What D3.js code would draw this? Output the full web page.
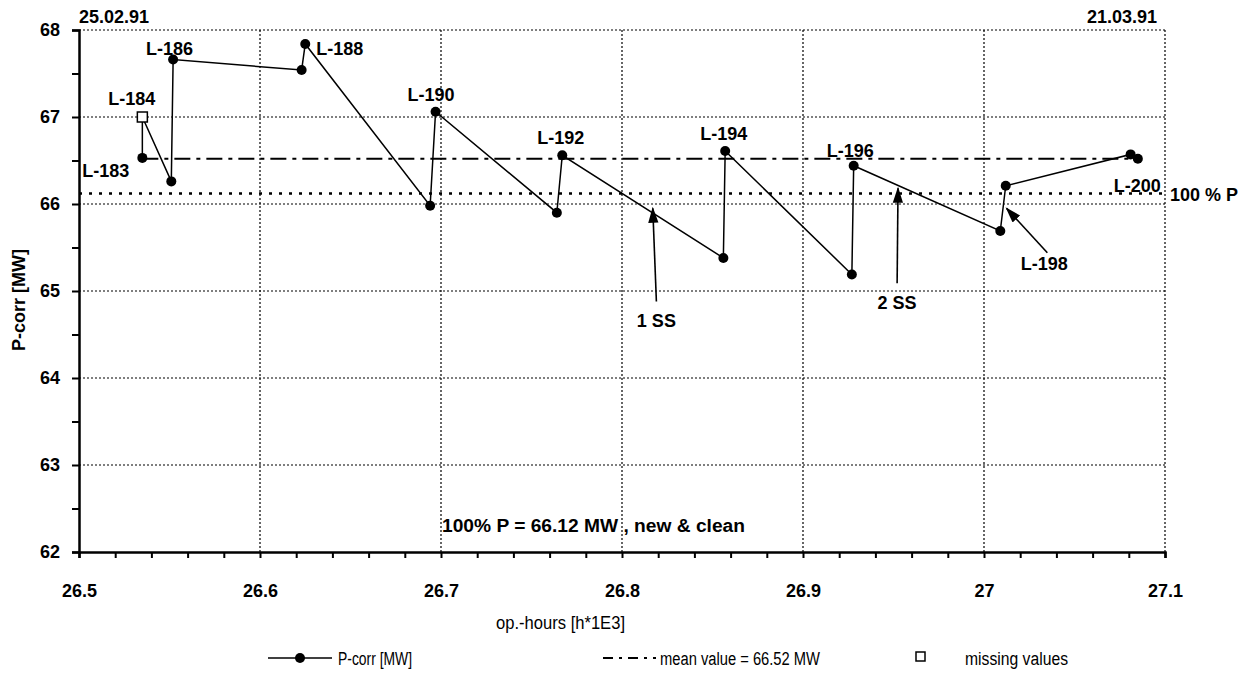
<!DOCTYPE html>
<html>
<head>
<meta charset="utf-8">
<script src="https://cdn.jsdelivr.net/npm/d3@7"></script>
<style>
  body { margin: 0; background: #fff; }
  text { font-family: "Liberation Sans", Arial, sans-serif; fill: #000; }
  .bold { font-weight: bold; }
  .narrow { font-family: "Liberation Sans Narrow", "Liberation Sans", Arial, sans-serif; }
</style>
</head>
<body>
<div id="canvas"></div>
<script>
// data

const hours = [26.535, 26.535, 26.551, 26.552, 26.623, 26.625, 26.694, 26.697, 26.764, 26.767,
  26.856, 26.857, 26.927, 26.928, 27.009, 27.012, 27.081, 27.085];
const pcorr = [66.53, 67.0, 66.26, 67.66, 67.54, 67.84, 65.98, 67.06, 65.90, 66.56,
  65.38, 66.61, 65.19, 66.44, 65.69, 66.21, 66.57, 66.52];
const missing = [false, true, false, false, false, false, false, false, false, false,
  false, false, false, false, false, false, false, false];

const meanValue = 66.52;
const fullPower = 66.12;

const pointLabels = ["L-183", "L-184", "L-186", "L-188", "L-190", "L-192", "L-194", "L-196", "L-198", "L-200"];
// arrows: tip (x, y) and tail (x, y) in data units
const arrowNames = ["1 SS", "2 SS", "L-198"];
const arrowTipX = [26.817, 26.9525, 27.0125];
const arrowTipY = [65.95, 66.18, 65.95];
const arrowTailX = [26.819, 26.952, 27.035];
const arrowTailY = [64.88, 65.09, 65.44];

const xTicks = [26.5, 26.6, 26.7, 26.8, 26.9, 27, 27.1];
const yTicks = [62, 63, 64, 65, 66, 67, 68];

// constants
const width = 1247;
const height = 675;
const plotLeft = 79, plotRight = 1165, plotTop = 30, plotBottom = 552;
const fs = '18px';

const x = d3.scaleLinear().domain([26.5, 27.1]).range([plotLeft, plotRight]);
const y = d3.scaleLinear().domain([62, 68]).range([plotBottom, plotTop]);

const svg = d3.select('#canvas')
  .append('svg').attr('width', width).attr('height', height);

// grid
svg.append('g').selectAll('line').data(yTicks.slice(1)).join('line')
  .attr('x1', plotLeft).attr('x2', plotRight)
  .attr('y1', d => y(d)).attr('y2', d => y(d))
  .attr('stroke', '#000').attr('stroke-width', 1.2).attr('stroke-dasharray', '2,2');
svg.append('g').selectAll('line').data(xTicks.slice(1)).join('line')
  .attr('x1', d => x(d)).attr('x2', d => x(d))
  .attr('y1', plotTop).attr('y2', plotBottom)
  .attr('stroke', '#000').attr('stroke-width', 1.2).attr('stroke-dasharray', '2,2');

// axes
const yAxis = d3.axisLeft(y)
  .tickValues(d3.range(62, 68.01, 0.5))
  .tickFormat(d => Number.isInteger(d) ? d : '')
  .tickSize(7).tickPadding(12);
const xAxis = d3.axisBottom(x)
  .tickValues(d3.range(0, 31).map(i => 26.5 + i * 0.02))
  .tickFormat((d, i) => i % 5 === 0 ? String(+d.toFixed(1)) : '')
  .tickSize(6).tickPadding(26);

const gy = svg.append('g').attr('transform', `translate(${plotLeft},0)`).call(yAxis);
const gx = svg.append('g').attr('transform', `translate(0,${plotBottom})`).call(xAxis);
[gx, gy].forEach(g => {
  g.select('.domain').attr('stroke', '#000').attr('stroke-width', 2.5);
  g.selectAll('.tick line').attr('stroke', '#000').attr('stroke-width', 2);
  g.selectAll('.tick text').attr('class', 'bold').style('font-size', fs)
    .style('font-family', '"Liberation Sans", Arial, sans-serif').attr('fill', '#000');
});

// 100 % P line
svg.append('line')
  .attr('x1', plotLeft).attr('x2', plotRight)
  .attr('y1', y(fullPower)).attr('y2', y(fullPower))
  .attr('stroke', '#000').attr('stroke-width', 2.5).attr('stroke-dasharray', '3,7');
svg.append('text').attr('class', 'bold')
  .attr('x', plotRight + 5).attr('y', y(fullPower) + 7)
  .style('font-size', fs).text('100 % P');

// mean line
svg.append('line')
  .attr('x1', x(hours[0])).attr('x2', x(hours[hours.length - 1]))
  .attr('y1', y(meanValue)).attr('y2', y(meanValue))
  .attr('stroke', '#000').attr('stroke-width', 2.2).attr('stroke-dasharray', '16,6,4,6');

// data line
const line = d3.line().x(i => x(hours[i])).y(i => y(pcorr[i]));
svg.append('path')
  .attr('d', line(d3.range(hours.length)))
  .attr('fill', 'none').attr('stroke', '#000').attr('stroke-width', 1.5);

svg.append('g').selectAll('circle')
  .data(d3.range(hours.length).filter(i => !missing[i])).join('circle')
  .attr('cx', i => x(hours[i])).attr('cy', i => y(pcorr[i])).attr('r', 5)
  .attr('fill', '#000');
svg.append('g').selectAll('rect')
  .data(d3.range(hours.length).filter(i => missing[i])).join('rect')
  .attr('x', i => x(hours[i]) - 5).attr('y', i => y(pcorr[i]) - 5)
  .attr('width', 10).attr('height', 10)
  .attr('fill', '#fff').attr('stroke', '#000').attr('stroke-width', 1.5);

// point labels (offsets in pixels)
const labelIdx = [0, 1, 3, 5, 7, 9, 11, 13, 15, 17];
const labelDx = [-60, -34, -27, 11, -28, -25, -25, -27, 15, -24];
const labelDy = [19, -12, -5, 11, -11, -11, -11, -9, 84, 33];
svg.append('g').selectAll('text').data(pointLabels).join('text')
  .attr('class', 'bold')
  .attr('x', (d, k) => x(hours[labelIdx[k]]) + labelDx[k])
  .attr('y', (d, k) => y(pcorr[labelIdx[k]]) + labelDy[k])
  .style('font-size', fs).text(d => d);

// arrows
const defs = svg.append('defs');
defs.append('marker').attr('id', 'arrow')
  .attr('viewBox', '0 0 10 10').attr('refX', 9).attr('refY', 5)
  .attr('markerWidth', 16).attr('markerHeight', 16).attr('markerUnits', 'userSpaceOnUse')
  .attr('orient', 'auto')
  .append('path').attr('d', 'M0,1.8 L10,5 L0,8.2 Z').attr('fill', '#000');
svg.append('g').selectAll('line').data(arrowNames).join('line')
  .attr('x1', (d, i) => x(arrowTailX[i])).attr('y1', (d, i) => y(arrowTailY[i]))
  .attr('x2', (d, i) => x(arrowTipX[i])).attr('y2', (d, i) => y(arrowTipY[i]))
  .attr('stroke', '#000').attr('stroke-width', 1.6).attr('marker-end', 'url(#arrow)');
svg.append('g').selectAll('text').data(arrowNames.slice(0, 2)).join('text')
  .attr('class', 'bold')
  .attr('x', (d, i) => x(arrowTailX[i]))
  .attr('y', (d, i) => y(arrowTailY[i]) + 26)
  .attr('text-anchor', 'middle')
  .style('font-size', fs).text(d => d);

// dates
svg.append('text').attr('class', 'bold').attr('x', plotLeft).attr('y', 23)
  .style('font-size', fs).text('25.02.91');
svg.append('text').attr('class', 'bold').attr('x', 1157).attr('y', 23)
  .attr('text-anchor', 'end').style('font-size', fs).text('21.03.91');

// note
svg.append('text').attr('class', 'bold').attr('x', 442).attr('y', 532)
  .style('font-size', fs).attr('textLength', 303).attr('lengthAdjust', 'spacingAndGlyphs')
  .text('100% P = 66.12 MW , new & clean');

// axis titles
svg.append('text').attr('class', 'bold')
  .attr('transform', 'translate(25,300) rotate(-90)')
  .attr('text-anchor', 'middle').style('font-size', fs).text('P-corr [MW]');
svg.append('text').attr('class', 'narrow')
  .attr('x', 496).attr('y', 629)
  .style('font-size', fs).attr('textLength', 129).attr('lengthAdjust', 'spacingAndGlyphs')
  .text('op.-hours [h*1E3]');

// legend
const lg = svg.append('g');
lg.append('line').attr('x1', 268).attr('x2', 332).attr('y1', 658).attr('y2', 658)
  .attr('stroke', '#000').attr('stroke-width', 1.5);
lg.append('circle').attr('cx', 300).attr('cy', 658).attr('r', 5).attr('fill', '#000');
lg.append('text').attr('class', 'narrow').attr('x', 338).attr('y', 665)
  .style('font-size', fs).attr('textLength', 74).attr('lengthAdjust', 'spacingAndGlyphs')
  .text('P-corr [MW]');
lg.append('line').attr('x1', 603).attr('x2', 656).attr('y1', 658).attr('y2', 658)
  .attr('stroke', '#000').attr('stroke-width', 2).attr('stroke-dasharray', '10,6,3,6');
lg.append('text').attr('class', 'narrow').attr('x', 660).attr('y', 665)
  .style('font-size', fs).attr('textLength', 160).attr('lengthAdjust', 'spacingAndGlyphs')
  .text('mean value = 66.52 MW');
lg.append('rect').attr('x', 916).attr('y', 652).attr('width', 9).attr('height', 9)
  .attr('fill', '#fff').attr('stroke', '#000').attr('stroke-width', 1.5);
lg.append('text').attr('class', 'narrow').attr('x', 965).attr('y', 665)
  .style('font-size', fs).attr('textLength', 103).attr('lengthAdjust', 'spacingAndGlyphs')
  .text('missing values');
</script>
</body>
</html>
